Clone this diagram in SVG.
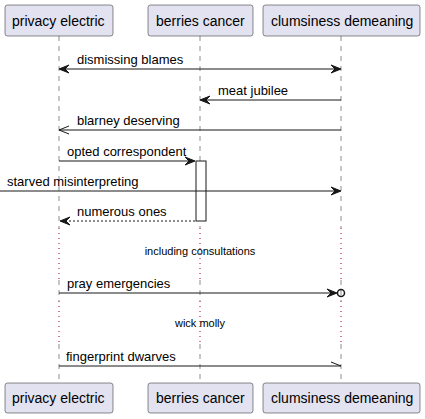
<svg xmlns="http://www.w3.org/2000/svg" width="425" height="419" viewBox="0 0 425 419">
<style>
.box{fill:#E2E2F0;stroke:#181818;stroke-width:0.5}
.pt{font-family:"Liberation Sans",Arial,sans-serif;font-size:14px;fill:#000}
.mt{font-family:"Liberation Sans",Arial,sans-serif;font-size:13px;fill:#000}
.dt{font-family:"Liberation Sans",Arial,sans-serif;font-size:11px;fill:#000}
.life{stroke:#181818;stroke-width:0.5;stroke-dasharray:5,5;fill:none}
.delay{stroke:#A80036;stroke-width:1;stroke-dasharray:1,4;fill:none}
.msg{stroke:#181818;stroke-width:1;fill:none}
.head{fill:#181818;stroke:#181818;stroke-width:1}
</style>
<g id="lifelines">
<line class="life" x1="59" y1="36" x2="59" y2="228"/>
<line class="delay" x1="59" y1="228" x2="59" y2="280"/>
<line class="life" x1="59" y1="280" x2="59" y2="301"/>
<line class="delay" x1="59" y1="301" x2="59" y2="344"/>
<line class="life" x1="59" y1="344" x2="59" y2="383"/>
<line class="life" x1="200" y1="36" x2="200" y2="228"/>
<line class="delay" x1="200" y1="228" x2="200" y2="280"/>
<line class="life" x1="200" y1="280" x2="200" y2="301"/>
<line class="delay" x1="200" y1="301" x2="200" y2="344"/>
<line class="life" x1="200" y1="344" x2="200" y2="383"/>
<line class="life" x1="341" y1="36" x2="341" y2="228"/>
<line class="delay" x1="341" y1="228" x2="341" y2="280"/>
<line class="life" x1="341" y1="280" x2="341" y2="301"/>
<line class="delay" x1="341" y1="301" x2="341" y2="344"/>
<line class="life" x1="341" y1="344" x2="341" y2="383"/>
</g>
<g id="privacy-electric">
<rect class="box" x="5" y="5" width="108" height="31" rx="2.5"/>
<text class="pt" x="12" y="26">privacy electric</text>
<rect class="box" x="5" y="383" width="108" height="30" rx="2.5"/>
<text class="pt" x="12" y="403">privacy electric</text>
</g>
<g id="berries-cancer">
<rect class="box" x="148" y="5" width="105" height="31" rx="2.5"/>
<text class="pt" x="156" y="26">berries cancer</text>
<rect class="box" x="148" y="383" width="105" height="30" rx="2.5"/>
<text class="pt" x="156" y="403">berries cancer</text>
<rect x="196" y="161" width="10" height="60" fill="#FFFFFF" stroke="#181818" stroke-width="1"/>
</g>
<g id="clumsiness-demeaning">
<rect class="box" x="263" y="5" width="157" height="31" rx="2.5"/>
<text class="pt" x="271" y="26">clumsiness demeaning</text>
<rect class="box" x="263" y="383" width="157" height="30" rx="2.5"/>
<text class="pt" x="271" y="403">clumsiness demeaning</text>
</g>
<g id="connectors">
<line class="msg" x1="60" y1="69" x2="340" y2="69"/>
<polygon class="head" points="59,69 69,65 65,69 69,73"/>
<polygon class="head" points="341,69 331,65 335,69 331,73"/>
<text class="mt" x="77" y="64">dismissing blames</text>

<line class="msg" x1="201" y1="100" x2="341" y2="100"/>
<polygon class="head" points="200,100 210,96 206,100 210,104"/>
<text class="mt" x="218" y="95">meat jubilee</text>

<line class="msg" x1="59" y1="130" x2="341" y2="130"/>
<polyline class="msg" points="69,126 59,130 69,134"/>
<text class="mt" x="77" y="125">blarney deserving</text>

<line class="msg" x1="59" y1="161" x2="194" y2="161"/>
<polygon class="head" points="195,161 185,157 189,161 185,165"/>
<text class="mt" x="67" y="156">opted correspondent</text>

<line class="msg" x1="0" y1="191" x2="340" y2="191"/>
<polygon class="head" points="341,191 331,187 335,191 331,195"/>
<text class="mt" x="7" y="186">starved misinterpreting</text>

<line class="msg" x1="61" y1="221" x2="196" y2="221" stroke-dasharray="2,2"/>
<polygon class="head" points="60,221 70,217 66,221 70,225"/>
<text class="mt" x="77" y="216">numerous ones</text>

<text class="dt" x="200" y="255" text-anchor="middle">including consultations</text>

<line class="msg" x1="59" y1="293" x2="336" y2="293"/>
<polygon class="head" points="337,293 327,289 331,293 327,297"/>
<circle cx="341" cy="293" r="3.5" fill="none" stroke="#181818" stroke-width="1.5"/>
<text class="mt" x="67" y="288">pray emergencies</text>

<text class="dt" x="200" y="327" text-anchor="middle">wick molly</text>

<line class="msg" x1="59" y1="366" x2="341" y2="366"/>
<line class="msg" x1="331" y1="362" x2="341" y2="366"/>
<text class="mt" x="66" y="361">fingerprint dwarves</text>
</g>
</svg>
